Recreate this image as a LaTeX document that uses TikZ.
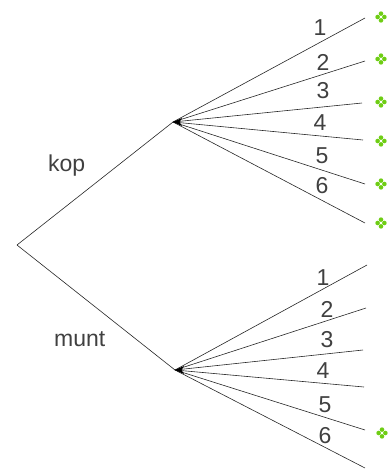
\documentclass[tikz,border=0pt]{standalone}
\usepackage{fontspec}
\setmainfont{Liberation Sans}
\usetikzlibrary{calc}
\definecolor{leafgreen}{RGB}{110,205,20}
\begin{document}
\begin{tikzpicture}[x=1pt,y=-1pt,
  branch/.style={draw=black!85,line width=0.6pt},
  lbl/.style={inner sep=0pt,anchor=base,font=\fontsize{23}{25}\selectfont\color{black!75}},
  word/.style={inner sep=0pt,anchor=base west,font=\fontsize{23}{25}\selectfont\color{black!75}},
  hub/.style={fill=black}
]
\useasboundingbox (0,0) rectangle (388,469);
% nodes of the tree
\coordinate (r) at (17,245);
\coordinate (k) at (173,122);
\coordinate (m) at (175,370);
% top leaves
\coordinate (k1) at (365,18);
\coordinate (k2) at (365,61);
\coordinate (k3) at (362,103);
\coordinate (k4) at (363,140);
\coordinate (k5) at (365,184);
\coordinate (k6) at (365,223);
% bottom leaves
\coordinate (m1) at (367,265);
\coordinate (m2) at (366,308);
\coordinate (m3) at (363,350);
\coordinate (m4) at (364,387);
\coordinate (m5) at (365,430);
\coordinate (m6) at (365,468);
% main branches
\draw[branch] (r) -- (k);
\draw[branch] (r) -- (m);
\foreach \i in {1,...,6}{
  \draw[branch] (k) -- (k\i);
  \draw[branch] (m) -- (m\i);
}
% hub marks
\fill[hub] (k) -- ++(9,-4) -- ++(-2.5,4) -- ++(2.5,4) -- cycle;
\fill[hub] (m) -- ++(9,-4) -- ++(-2.5,4) -- ++(2.5,4) -- cycle;
% labels
\node[word] (lk) at (48,171) {kop};
\node[word] (lm) at (54,346) {munt};
\node[lbl] (tk1) at (320,35) {1};
\node[lbl] (tk2) at (323,70) {2};
\node[lbl] (tk3) at (323,98) {3};
\node[lbl] (tk4) at (320,130) {4};
\node[lbl] (tk5) at (322,163) {5};
\node[lbl] (tk6) at (322,193) {6};
\node[lbl] (tm1) at (323,285) {1};
\node[lbl] (tm2) at (327,317) {2};
\node[lbl] (tm3) at (327,347) {3};
\node[lbl] (tm4) at (323,378) {4};
\node[lbl] (tm5) at (325,412) {5};
\node[lbl] (tm6) at (325,443) {6};
% green marks
\foreach \y [count=\j] in {17,59,102,141,184,223}{
  \coordinate (g\j) at (381,\y);
  \foreach \dx/\dy in {0/-3.4,0/3.4,-3.4/0,3.4/0}
    \fill[leafgreen] ($(g\j)+(\dx,\dy)$) circle (2.3);
}
\coordinate (g7) at (382,433);
\foreach \dx/\dy in {0/-3.4,0/3.4,-3.4/0,3.4/0}
  \fill[leafgreen] ($(g7)+(\dx,\dy)$) circle (2.3);
\end{tikzpicture}
\end{document}
